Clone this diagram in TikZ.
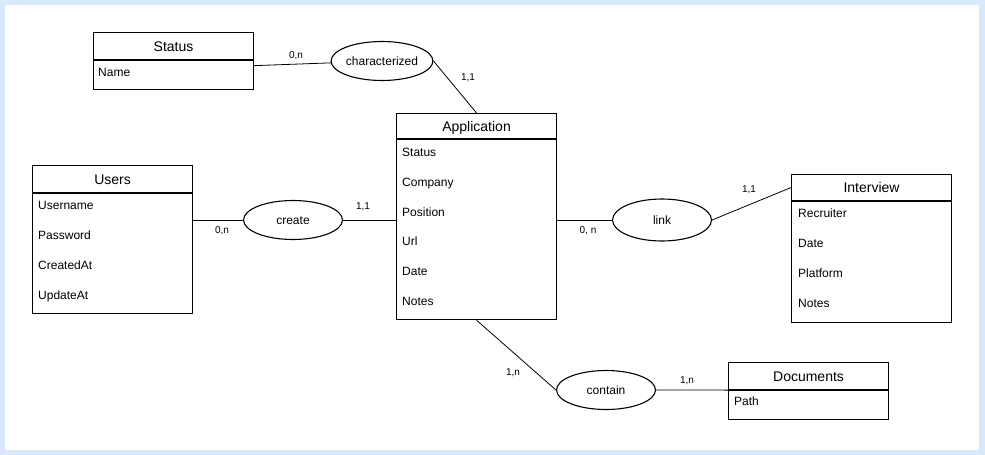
\documentclass[tikz,border=0pt]{standalone}
\usepackage{fontspec}
\setmainfont{Liberation Sans}
\usetikzlibrary{shapes.geometric,positioning}
\definecolor{frameblue}{HTML}{DAE8FC}
\begin{document}
\begin{tikzpicture}[x=1pt,y=-1pt,
        head/.style={draw,line width=1.1pt,anchor=north west,minimum width=160pt,
            minimum height=27pt,inner sep=0pt,text height=10pt,text depth=0pt,
            font=\fontsize{14}{16}\selectfont},
        body/.style={draw,line width=1.1pt,minimum width=160pt,inner sep=0pt},
        attr/.style={anchor=west,inner sep=0pt,text height=8.6pt,text depth=0pt,
            font=\fontsize{12}{14}\selectfont},
        rel/.style={ellipse,draw,line width=1.1pt,minimum width=99pt,minimum height=39pt,
            inner sep=0pt,text height=8.6pt,text depth=0pt,font=\fontsize{12}{14}\selectfont},
        card/.style={inner sep=0pt,text height=7.2pt,text depth=0pt,
            font=\fontsize{10}{12}\selectfont},
        link line/.style={line width=0.8pt}]
\useasboundingbox (0,0) rectangle (985,455);
\fill[frameblue] (0,0) rectangle (985,455);
\fill[white] (5,5) rectangle (979,450);

% entities
\node[head] (status) at (93,32) {Status};
\node[body,minimum height=29pt,below=0pt of status] (statusb) {};
\node[attr] (stname) at (98,72) {Name};

\node[head] (users) at (32,165) {Users};
\node[body,minimum height=120pt,below=0pt of users] (usersb) {};
\node[attr] (username) at (38,205) {Username};
\node[attr] (password) at (38,235) {Password};
\node[attr] (createdat) at (38,265) {CreatedAt};
\node[attr] (updateat) at (38,295) {UpdateAt};

\node[head,minimum height=25pt] (app) at (396,113) {Application};
\node[body,minimum height=180pt,below=0pt of app] (appb) {};
\node[attr] (appstatus) at (402,152) {Status};
\node[attr] (company) at (402,182) {Company};
\node[attr] (position) at (402,212) {Position};
\node[attr] (url) at (402,241) {Url};
\node[attr] (appdate) at (402,271) {Date};
\node[attr] (appnotes) at (402,301) {Notes};

\node[head,minimum height=26pt] (interview) at (791,174) {Interview};
\node[body,minimum height=121pt,below=0pt of interview] (interviewb) {};
\node[attr] (recruiter) at (798,213) {Recruiter};
\node[attr] (intdate) at (798,243) {Date};
\node[attr] (platform) at (798,273) {Platform};
\node[attr] (intnotes) at (798,303) {Notes};

\node[head] (docs) at (728,362) {Documents};
\node[body,minimum height=29pt,below=0pt of docs] (docsb) {};
\node[attr] (path) at (734,401) {Path};

% relations
\node[rel] (characterized) at (382,61) {characterized};
\node[rel] (create) at (293,220) {create};
\node[rel,minimum height=42pt] (link) at (662,220) {link};
\node[rel] (contain) at (606,390) {contain};

% connectors
\draw[link line] ([yshift=9.5pt]statusb.east) -- (characterized);
\draw[link line] (characterized.east) -- (app.north);
\draw[link line] (create) -- (create -| usersb.east);
\draw[link line] (create) -- (create -| appb.west);
\draw[link line] (link) -- (link -| appb.east);
\draw[link line] (link.east) -- (interview.west);
\draw[link line] (appb.south) -- (contain.west);
\draw[link line] (contain.east) -- (docs.south west);

% cardinalities
\node[card] (c1) at (296,55) {0,n};
\node[card] (c2) at (468,77) {1,1};
\node[card] (c3) at (222,230) {0,n};
\node[card] (c4) at (363,206) {1,1};
\node[card] (c5) at (588,230) {0, n};
\node[card] (c6) at (749,189) {1,1};
\node[card] (c7) at (513,372) {1,n};
\node[card] (c8) at (687,380) {1,n};
\end{tikzpicture}
\end{document}
